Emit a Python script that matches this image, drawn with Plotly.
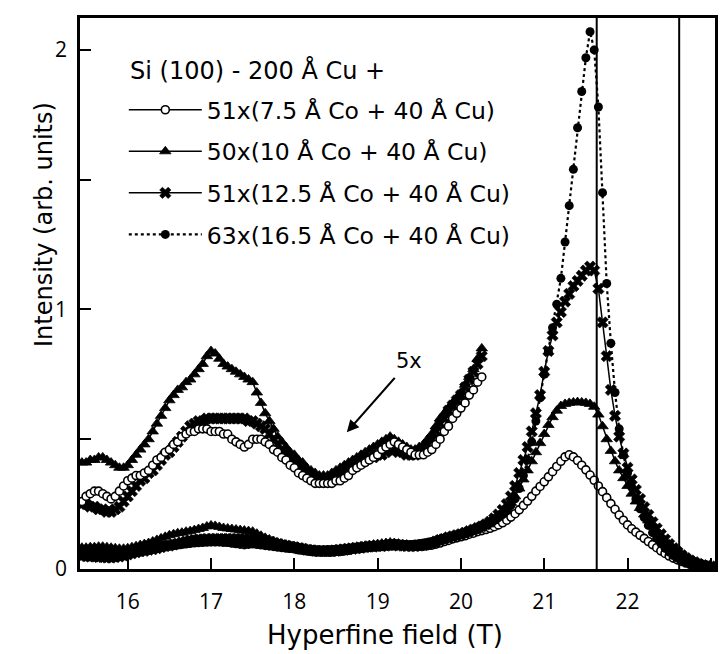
import numpy as np
import plotly.graph_objects as go

# Hyperfine-field grid (T), 0.05 T steps
field_T = np.round(15.45 + 0.05 * np.arange(152), 2)

# Intensity (arb. units) per multilayer, one row per 0.5 T
co_7p5 = [
    0.052, 0.056, 0.058, 0.060, 0.060, 0.058, 0.056, 0.054, 0.056, 0.060,
    0.064, 0.068, 0.070, 0.072, 0.072, 0.074, 0.076, 0.080, 0.084, 0.086,
    0.090, 0.092, 0.096, 0.098, 0.102, 0.104, 0.106, 0.106, 0.108, 0.108,
    0.108, 0.106, 0.106, 0.106, 0.104, 0.104, 0.100, 0.098, 0.096, 0.094,
    0.096, 0.100, 0.100, 0.100, 0.098, 0.096, 0.092, 0.090, 0.086, 0.084,
    0.080, 0.078, 0.074, 0.072, 0.070, 0.068, 0.066, 0.066, 0.066, 0.066,
    0.066, 0.068, 0.068, 0.070, 0.072, 0.076, 0.078, 0.080, 0.082, 0.084,
    0.086, 0.088, 0.092, 0.094, 0.096, 0.098, 0.096, 0.094, 0.092, 0.090,
    0.088, 0.088, 0.088, 0.090, 0.092, 0.096, 0.100, 0.106, 0.110, 0.116,
    0.120, 0.124, 0.128, 0.134, 0.138, 0.144, 0.148,
    0.152, 0.157, 0.163, 0.170, 0.178, 0.188, 0.200, 0.213, 0.228, 0.245,
    0.262, 0.280, 0.300, 0.318, 0.336, 0.355, 0.375, 0.395, 0.415, 0.432,
    0.440, 0.432, 0.418, 0.400, 0.382, 0.362, 0.342, 0.320, 0.298, 0.275,
    0.252, 0.230, 0.208, 0.188, 0.170, 0.155, 0.142, 0.130, 0.118, 0.106,
    0.094, 0.082, 0.070, 0.060, 0.050, 0.042, 0.035, 0.029, 0.023, 0.018,
    0.014, 0.011, 0.009, 0.007, 0.006,
]
co_10 = [
    0.082, 0.082, 0.084, 0.084, 0.086, 0.086, 0.084, 0.082, 0.080, 0.078,
    0.078, 0.080, 0.084, 0.088, 0.092, 0.096, 0.100, 0.106, 0.112, 0.118,
    0.124, 0.130, 0.134, 0.138, 0.140, 0.144, 0.146, 0.150, 0.154, 0.158,
    0.164, 0.168, 0.166, 0.162, 0.158, 0.156, 0.154, 0.152, 0.150, 0.148,
    0.146, 0.144, 0.136, 0.128, 0.120, 0.114, 0.108, 0.102, 0.098, 0.094,
    0.090, 0.088, 0.084, 0.082, 0.078, 0.076, 0.074, 0.072, 0.072, 0.072,
    0.074, 0.076, 0.078, 0.080, 0.082, 0.084, 0.086, 0.088, 0.090, 0.092,
    0.094, 0.096, 0.098, 0.100, 0.102, 0.100, 0.098, 0.096, 0.094, 0.092,
    0.092, 0.094, 0.096, 0.100, 0.104, 0.110, 0.116, 0.120, 0.124, 0.128,
    0.132, 0.136, 0.142, 0.148, 0.154, 0.162, 0.170,
    0.176, 0.184, 0.194, 0.206, 0.220, 0.236, 0.255, 0.280, 0.310, 0.345,
    0.380, 0.415, 0.450, 0.485, 0.520, 0.555, 0.585, 0.610, 0.628, 0.636,
    0.640, 0.642, 0.643, 0.642, 0.640, 0.636, 0.625, 0.595, 0.550, 0.500,
    0.455, 0.415, 0.380, 0.350, 0.320, 0.290, 0.260, 0.235, 0.210, 0.187,
    0.165, 0.145, 0.128, 0.110, 0.095, 0.081, 0.068, 0.056, 0.046, 0.037,
    0.030, 0.024, 0.019, 0.015, 0.012,
]
co_12p5 = [
    0.050, 0.050, 0.048, 0.048, 0.046, 0.046, 0.044, 0.044, 0.046, 0.048,
    0.052, 0.056, 0.060, 0.064, 0.068, 0.070, 0.074, 0.076, 0.080, 0.084,
    0.088, 0.090, 0.094, 0.098, 0.102, 0.106, 0.110, 0.112, 0.114, 0.114,
    0.116, 0.116, 0.116, 0.116, 0.116, 0.116, 0.116, 0.116, 0.116, 0.116,
    0.114, 0.114, 0.112, 0.110, 0.108, 0.104, 0.100, 0.096, 0.092, 0.090,
    0.086, 0.084, 0.080, 0.078, 0.074, 0.072, 0.070, 0.068, 0.068, 0.068,
    0.068, 0.070, 0.072, 0.074, 0.076, 0.078, 0.080, 0.082, 0.084, 0.086,
    0.086, 0.088, 0.088, 0.090, 0.092, 0.092, 0.090, 0.090, 0.088, 0.088,
    0.088, 0.090, 0.092, 0.096, 0.100, 0.106, 0.112, 0.116, 0.122, 0.126,
    0.130, 0.134, 0.140, 0.146, 0.152, 0.158, 0.164,
    0.172, 0.182, 0.195, 0.210, 0.228, 0.250, 0.280, 0.320, 0.370, 0.420,
    0.470, 0.530, 0.600, 0.670, 0.760, 0.840, 0.900, 0.950, 0.990, 1.030,
    1.060, 1.090, 1.110, 1.130, 1.150, 1.165, 1.150, 1.080, 0.950, 0.820,
    0.690, 0.590, 0.510, 0.445, 0.390, 0.345, 0.305, 0.270, 0.238, 0.208,
    0.180, 0.156, 0.134, 0.114, 0.096, 0.080, 0.066, 0.053, 0.042, 0.033,
    0.026, 0.020, 0.015, 0.012, 0.010,
]
co_16p5 = [
    0.062, 0.064, 0.063, 0.065, 0.064, 0.066, 0.065, 0.066, 0.067, 0.068,
    0.069, 0.070, 0.071, 0.073, 0.074, 0.076, 0.078, 0.080, 0.082, 0.084,
    0.086, 0.088, 0.090, 0.092, 0.094, 0.096, 0.098, 0.100, 0.101, 0.102,
    0.103, 0.104, 0.104, 0.104, 0.103, 0.102, 0.101, 0.100, 0.099, 0.098,
    0.097, 0.096, 0.094, 0.092, 0.090, 0.088, 0.086, 0.084, 0.082, 0.080,
    0.079, 0.078, 0.077, 0.076, 0.075, 0.074, 0.074, 0.074, 0.074, 0.075,
    0.075, 0.076, 0.077, 0.078, 0.079, 0.080, 0.081, 0.082, 0.083, 0.084,
    0.085, 0.086, 0.087, 0.088, 0.089, 0.090, 0.091, 0.092, 0.093, 0.094,
    0.096, 0.098, 0.100, 0.103, 0.106, 0.109, 0.112, 0.116, 0.120, 0.124,
    0.128, 0.133, 0.138, 0.143, 0.149, 0.155, 0.162,
    0.170, 0.178, 0.187, 0.198, 0.210, 0.225, 0.245, 0.270, 0.310, 0.360,
    0.420, 0.490, 0.570, 0.660, 0.750, 0.840, 0.930, 1.020, 1.120, 1.260,
    1.400, 1.540, 1.700, 1.840, 1.970, 2.070, 2.000, 1.780, 1.450, 1.100,
    0.870, 0.680, 0.540, 0.440, 0.370, 0.315, 0.270, 0.232, 0.198, 0.168,
    0.140, 0.118, 0.098, 0.080, 0.065, 0.052, 0.041, 0.032, 0.025, 0.020,
    0.016, 0.012, 0.010, 0.008, 0.006,
]

series_names = [
    "51x(7.5 Å Co + 40 Å Cu)",
    "50x(10 Å Co + 40 Å Cu)",
    "51x(12.5 Å Co + 40 Å Cu)",
    "63x(16.5 Å Co + 40 Å Cu)",
]
stack_label = "Si (100) - 200 Å Cu +"

magnification = 5           # low-field part repeated at 5x
magnified_upto = 20.25      # T
ref_fields = [21.63, 22.62] # T, vertical reference lines

x_ticks = [16, 17, 18, 19, 20, 21, 22, 23]
y_ticks = [0, 0.5, 1, 1.5, 2]
y_ticktext = ["0", "", "1", "", "2"]

for s in (co_7p5, co_10, co_12p5, co_16p5):
    assert len(s) == len(field_T), len(s)

FONT = "DejaVu Sans"
TICK_FONT = "Open Sans"
INK = "black"

styles = [
    dict(marker=dict(symbol="circle", size=8, color="white",
                     line=dict(color=INK, width=1.6)),
         line=dict(color=INK, width=1.5)),
    dict(marker=dict(symbol="triangle-up", size=10, color=INK,
                     line=dict(color=INK, width=0.8)),
         line=dict(color=INK, width=1.5)),
    dict(marker=dict(symbol="x", size=10, color=INK,
                     line=dict(color=INK, width=0.6)),
         line=dict(color=INK, width=1.5)),
    dict(marker=dict(symbol="circle", size=9, color=INK),
         line=dict(color=INK, width=2.2, dash="dot")),
]
data = [co_7p5, co_10, co_12p5, co_16p5]

fig = go.Figure()

# full-scale curves; the open-circle series goes underneath so the
# overlapping low-field band reads as one solid trace
for i in [0, 3, 2, 1]:
    fig.add_trace(go.Scatter(
        x=field_T, y=data[i], mode="lines+markers",
        name=series_names[i], legendgroup=f"g{i}", legendrank=i + 1,
        marker=styles[i]["marker"], line=styles[i]["line"],
        showlegend=True,
    ))

# low-field region magnified 5x (first three multilayers)
mask = field_T <= magnified_upto + 1e-9
for i in [1, 2, 0]:
    fig.add_trace(go.Scatter(
        x=field_T[mask], y=magnification * np.asarray(data[i])[mask],
        mode="lines+markers", showlegend=False, legendgroup=f"g{i}",
        marker=styles[i]["marker"], line=styles[i]["line"],
    ))

for xv in ref_fields:
    fig.add_vline(x=xv, line=dict(color=INK, width=2))

fig.add_annotation(
    x=18.63, y=0.527, ax=19.38, ay=0.80, axref="x", ayref="y",
    text="5x", showarrow=True, arrowhead=2, arrowsize=1.1, arrowwidth=2.2,
    arrowcolor=INK, startstandoff=4,
    font=dict(family=FONT, size=21, color=INK),
)
fig.add_annotation(
    xref="paper", yref="paper", x=0.0752, y=0.9056,
    xanchor="left", yanchor="middle",
    text=stack_label, showarrow=False,
    font=dict(family=FONT, size=24, color=INK),
)
fig.add_annotation(
    xref="paper", yref="paper", x=-0.082, y=0.626,
    text="Intensity (arb. units)", textangle=-90, showarrow=False,
    font=dict(family=FONT, size=24, color=INK),
)
fig.add_annotation(
    xref="paper", yref="paper", x=0.481, y=-0.12,
    xanchor="center", yanchor="middle",
    text="Hyperfine field (T)", showarrow=False,
    font=dict(family=FONT, size=26, color=INK),
)

axis_common = dict(
    showline=True, linecolor=INK, linewidth=2.8, mirror=True,
    ticks="inside", ticklen=11, tickwidth=2.2, tickcolor=INK,
    showgrid=False, zeroline=False,
    tickfont=dict(family=TICK_FONT, size=21, color=INK),
)
fig.update_xaxes(
    range=[15.427, 23.05], tickmode="array", tickvals=x_ticks,
    ticklabelstandoff=12, **axis_common,
)
fig.update_yaxes(
    range=[0.0, 2.123], tickmode="array", tickvals=y_ticks,
    ticktext=y_ticktext, ticklabelstandoff=6, **axis_common,
)

fig.update_layout(
    width=722, height=654,
    margin=dict(l=80, r=4, t=18, b=85),
    paper_bgcolor="white", plot_bgcolor="white",
    font=dict(family=FONT, color=INK),
    legend=dict(
        x=0.069, y=0.873, xanchor="left", yanchor="top",
        bgcolor="rgba(0,0,0,0)", borderwidth=0,
        font=dict(family=FONT, size=23.5, color=INK),
        traceorder="grouped", tracegroupgap=8, itemwidth=73,
    ),
)

fig.write_html("out.html")
